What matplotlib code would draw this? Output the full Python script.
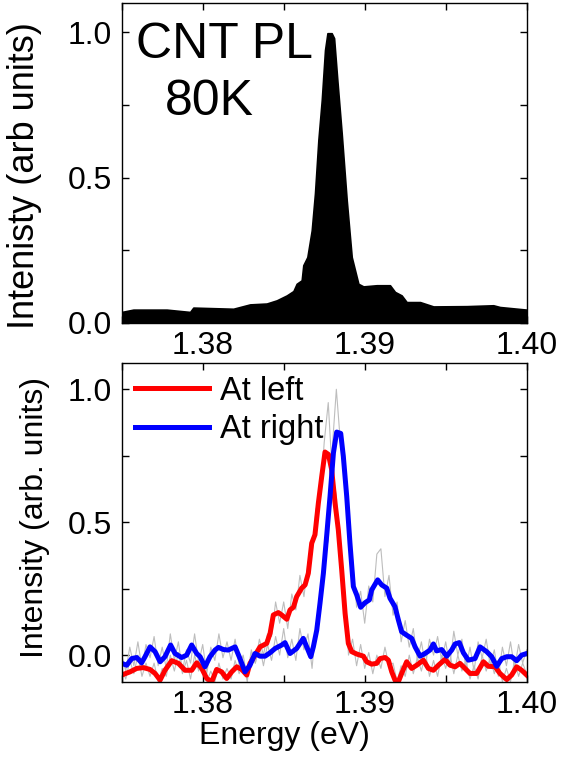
import numpy as np
import matplotlib
matplotlib.use("Agg")
import matplotlib.pyplot as plt
from matplotlib.ticker import MultipleLocator, FormatStrFormatter

plt.rcParams['font.family'] = ['Liberation Sans', 'DejaVu Sans']

# ---------------- data ----------------
# top panel: CNT PL spectrum at 80K
pl_energy = [1.37500, 1.37572, 1.37778, 1.37922, 1.37942, 1.38189, 1.38292, 1.38395,
             1.38457, 1.38519, 1.38560, 1.38580, 1.38611, 1.38621, 1.38646, 1.38673,
             1.38693, 1.38714, 1.38735, 1.38755, 1.38770, 1.38796, 1.38811, 1.38831,
             1.38858, 1.38889, 1.38909, 1.38920, 1.38961, 1.38992, 1.39074, 1.39156,
             1.39187, 1.39228, 1.39259, 1.39342, 1.39424, 1.39630, 1.39794, 1.39835,
             1.40000]
pl_intensity = [0.037, 0.045, 0.045, 0.037, 0.052, 0.048, 0.063, 0.066,
                0.077, 0.094, 0.109, 0.134, 0.146, 0.198, 0.226, 0.318,
                0.445, 0.629, 0.767, 0.939, 0.997, 0.997, 0.980, 0.836,
                0.652, 0.422, 0.295, 0.226, 0.134, 0.125, 0.129, 0.129,
                0.106, 0.094, 0.071, 0.071, 0.056, 0.057, 0.060, 0.054,
                0.045]

# bottom panel: smoothed spectra
left_energy = [1.37500, 1.37551, 1.37593, 1.37634, 1.37675, 1.37706, 1.37737, 1.37767,
               1.37809, 1.37850, 1.37891, 1.37932, 1.37963, 1.37994, 1.38025, 1.38056,
               1.38086, 1.38117, 1.38148, 1.38179, 1.38210, 1.38241, 1.38272, 1.38292,
               1.38323, 1.38354, 1.38395, 1.38416, 1.38436, 1.38467, 1.38488, 1.38519,
               1.38539, 1.38560, 1.38580, 1.38611, 1.38632, 1.38652, 1.38673, 1.38693,
               1.38714, 1.38735, 1.38755, 1.38776, 1.38796, 1.38817, 1.38837, 1.38858,
               1.38879, 1.38899, 1.38920, 1.38951, 1.38992, 1.39012, 1.39043, 1.39074,
               1.39095, 1.39126, 1.39146, 1.39167, 1.39187, 1.39208, 1.39228, 1.39259,
               1.39290, 1.39321, 1.39362, 1.39393, 1.39424, 1.39455, 1.39496, 1.39527,
               1.39558, 1.39588, 1.39619, 1.39650, 1.39691, 1.39733, 1.39763, 1.39805,
               1.39835, 1.39877, 1.39907, 1.39938, 1.39969, 1.40000]
left_intensity = [-0.075, -0.063, -0.050, -0.047, -0.054, -0.069, -0.094, -0.057,
                  -0.021, -0.031, -0.057, -0.057, -0.029, -0.050, -0.088, -0.100,
                  -0.054, -0.063, -0.088, -0.063, -0.044, -0.054, -0.075, -0.031,
                  0.000, 0.031, 0.044, 0.082, 0.151, 0.160, 0.151, 0.135,
                  0.170, 0.180, 0.220, 0.252, 0.264, 0.308, 0.421, 0.453,
                  0.572, 0.673, 0.764, 0.755, 0.698, 0.572, 0.472, 0.321,
                  0.157, 0.044, 0.013, 0.004, -0.004, -0.025, -0.034, -0.031,
                  -0.013, -0.009, -0.019, -0.063, -0.094, -0.100, -0.069, -0.025,
                  -0.050, -0.038, -0.019, -0.050, -0.057, -0.038, -0.016, -0.038,
                  -0.044, -0.031, -0.050, -0.069, -0.069, -0.025, -0.042, -0.044,
                  -0.069, -0.092, -0.075, -0.044, -0.057, -0.075]

right_energy = [1.37500, 1.37531, 1.37562, 1.37593, 1.37623, 1.37644, 1.37675, 1.37706,
                1.37737, 1.37767, 1.37802, 1.37829, 1.37870, 1.37901, 1.37932, 1.37963,
                1.37984, 1.38014, 1.38045, 1.38076, 1.38097, 1.38128, 1.38158, 1.38200,
                1.38230, 1.38261, 1.38292, 1.38323, 1.38354, 1.38385, 1.38416, 1.38447,
                1.38488, 1.38508, 1.38539, 1.38580, 1.38621, 1.38642, 1.38667, 1.38683,
                1.38704, 1.38724, 1.38745, 1.38765, 1.38786, 1.38807, 1.38827, 1.38852,
                1.38868, 1.38889, 1.38909, 1.38930, 1.38951, 1.38975, 1.39002, 1.39029,
                1.39043, 1.39080, 1.39105, 1.39136, 1.39156, 1.39187, 1.39208, 1.39228,
                1.39259, 1.39290, 1.39311, 1.39342, 1.39372, 1.39403, 1.39424, 1.39444,
                1.39475, 1.39506, 1.39537, 1.39558, 1.39584, 1.39609, 1.39640, 1.39681,
                1.39712, 1.39753, 1.39784, 1.39815, 1.39846, 1.39877, 1.39907, 1.39938,
                1.39969, 1.40000]
right_intensity = [-0.031, -0.038, -0.013, -0.009, -0.029, -0.006, 0.031, 0.013,
                   -0.025, -0.006, 0.038, 0.006, -0.009, 0.000, 0.038, 0.006,
                   -0.006, -0.044, -0.006, 0.019, 0.029, 0.021, 0.019, 0.031,
                   -0.013, -0.063, -0.038, 0.006, -0.004, -0.004, 0.009, 0.025,
                   0.038, 0.047, 0.006, 0.025, 0.063, 0.031, -0.006, 0.031,
                   0.094, 0.195, 0.308, 0.447, 0.597, 0.761, 0.839, 0.834,
                   0.748, 0.597, 0.421, 0.258, 0.226, 0.180, 0.197, 0.208,
                   0.245, 0.283, 0.264, 0.252, 0.214, 0.182, 0.132, 0.088,
                   0.075, 0.063, 0.031, -0.004, 0.006, 0.019, 0.042, 0.016,
                   0.021, -0.004, 0.019, 0.042, 0.047, 0.009, -0.019, -0.013,
                   0.031, 0.013, -0.006, -0.042, -0.013, -0.006, -0.006, -0.021,
                   0.000, 0.006]

# raw (unsmoothed) spectra, grey
raw_energy = np.linspace(1.375, 1.400, 101)
raw_left = [-0.05, -0.09, -0.02, -0.07, 0.00, -0.08, -0.03, -0.08, -0.03, -0.10,
            -0.05, -0.08, 0.00, -0.06, 0.01, -0.07, -0.02, -0.09, 0.00, -0.06,
            -0.02, -0.10, -0.06, -0.10, -0.03, -0.09, -0.05, -0.09, -0.02, -0.07,
            -0.03, -0.10, 0.01, -0.03, 0.06, 0.00, 0.08, 0.07, 0.20, 0.12,
            0.20, 0.10, 0.23, 0.17, 0.30, 0.22, 0.35, 0.38, 0.55, 0.58,
            0.80, 0.95, 0.68, 0.60, 0.33, 0.25, 0.00, 0.06, -0.04, 0.04,
            -0.05, 0.01, -0.07, 0.00, -0.05, 0.03, -0.04, -0.03, -0.10, -0.04,
            -0.08, 0.00, -0.07, -0.01, -0.06, 0.01, -0.08, -0.02, -0.08, 0.00,
            -0.05, 0.01, -0.07, 0.00, -0.06, -0.02, -0.09, -0.04, -0.09, 0.00,
            -0.06, -0.01, -0.07, -0.02, -0.10, -0.05, -0.10, -0.02, -0.08, -0.03,
            -0.07]
raw_right = [0.00, -0.06, 0.03, -0.04, 0.05, -0.05, 0.04, -0.01, 0.07, -0.04,
             0.03, -0.05, 0.08, -0.02, 0.05, -0.06, 0.02, -0.03, 0.08, -0.03,
             0.04, -0.07, 0.03, -0.02, 0.08, -0.01, 0.05, -0.02, 0.06, -0.04,
             0.00, -0.09, 0.02, -0.03, 0.04, -0.04, 0.04, -0.02, 0.07, 0.00,
             0.10, -0.01, 0.06, -0.02, 0.10, 0.02, 0.08, -0.05, 0.12, 0.15,
             0.38, 0.43, 0.78, 1.00, 0.80, 0.76, 0.45, 0.36, 0.18, 0.24,
             0.12, 0.26, 0.20, 0.38, 0.40, 0.22, 0.30, 0.15, 0.20, 0.05,
             0.13, 0.03, 0.10, -0.02, 0.05, -0.04, 0.06, 0.00, 0.07, -0.02,
             0.05, -0.04, 0.09, 0.00, 0.06, -0.05, 0.03, -0.06, 0.05, -0.01,
             0.06, -0.04, 0.02, -0.08, 0.03, -0.04, 0.05, -0.05, 0.04, -0.03,
             0.02]

x_ticks = [1.38, 1.39, 1.40]
y_ticks = [0.0, 0.5, 1.0]

# ---------------- figure ----------------
fig = plt.figure(figsize=(5.61, 7.57), dpi=100)
W, H = 561, 757
ax1 = fig.add_axes([121.7 / W, 1 - 322.7 / H, 405 / W, 319.4 / H])
ax2 = fig.add_axes([121.7 / W, 1 - 681.7 / H, 405 / W, 319.0 / H])

TICK_FS = 23

def style(ax, ylim):
    ax.set_xlim(1.375, 1.400)
    ax.set_ylim(*ylim)
    ax.set_xticks(x_ticks)
    ax.set_yticks(y_ticks)
    ax.xaxis.set_minor_locator(MultipleLocator(0.005))
    ax.yaxis.set_minor_locator(MultipleLocator(0.25))
    ax.xaxis.set_major_formatter(FormatStrFormatter('%.2f'))
    ax.yaxis.set_major_formatter(FormatStrFormatter('%.1f'))
    ax.tick_params(which='both', direction='in', top=True, right=True,
                   length=5, width=1, labelsize=TICK_FS)
    ax.tick_params(axis='x', pad=6)
    ax.tick_params(axis='y', pad=7)
    for s in ax.spines.values():
        s.set_linewidth(1.0)

# top panel
ax1.fill_between(pl_energy, 0, pl_intensity, color='black', linewidth=1.2,
                 edgecolor='black')
style(ax1, (0, 1.1))
ax1.set_ylabel('Intenisty (arb units)', fontsize=26)
ax1.yaxis.set_label_coords(-0.197, 0.461)
ax1.text(0.035, 0.829, 'CNT PL', transform=ax1.transAxes, fontsize=36,
         va='baseline', ha='left')
ax1.text(0.107, 0.650, '80K', transform=ax1.transAxes, fontsize=36,
         va='baseline', ha='left')

# bottom panel
ax2.plot(raw_energy, raw_left, color='#bdbdbd', lw=0.8)
ax2.plot(raw_energy, raw_right, color='#bdbdbd', lw=0.8)
ax2.plot(left_energy, left_intensity, color='#ff0000', lw=3.6, label='At left')
ax2.plot(right_energy, right_intensity, color='#0000ff', lw=3.6, label='At right')
style(ax2, (-0.1, 1.1))
ax2.set_ylabel('Intensity (arb. units)', fontsize=23)
ax2.yaxis.set_label_coords(-0.177, 0.516)
ax2.set_xlabel('Energy (eV)', fontsize=23)
ax2.xaxis.set_label_coords(0.403, -0.122)
ax2.legend(loc='upper left', frameon=False, fontsize=23.5, handlelength=2.27,
           handletextpad=0.33, borderaxespad=0.2, labelspacing=0.22,
           borderpad=0.2)

fig.savefig('out.png', dpi=100)
